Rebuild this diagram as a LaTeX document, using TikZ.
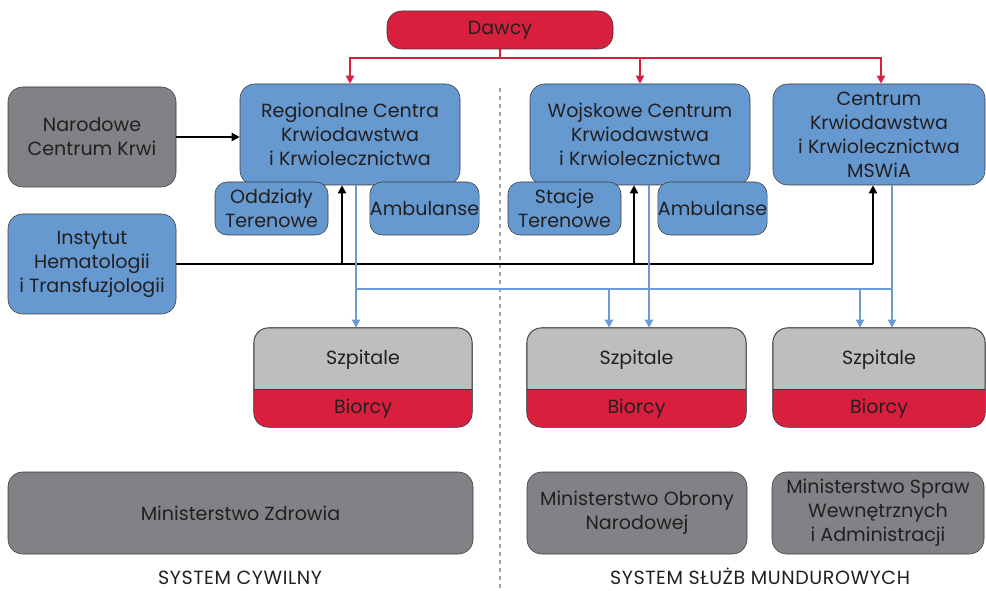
\documentclass[tikz,border=0pt]{standalone}
\usepackage{fontspec}
\setmainfont{Poppins}
\usetikzlibrary{arrows.meta,positioning}
\definecolor{boxblue}{HTML}{6699CF}
\definecolor{boxred}{HTML}{D91F3E}
\definecolor{boxgray}{HTML}{818285}
\definecolor{boxlight}{HTML}{BDBEC0}
\definecolor{lineblue}{HTML}{6A9BD6}
\definecolor{edgegray}{HTML}{3A3A3C}
\definecolor{textdark}{HTML}{231F20}

\begin{document}
\begin{tikzpicture}[
    x=0.75pt, y=0.75pt,
    every node/.style={font=\fontsize{14.3}{18}\selectfont, text=textdark},
    box/.style={draw=edgegray, rounded corners=11pt, align=center, inner sep=0pt, fill=boxblue, minimum width=165pt, minimum height=75.75pt},
    small/.style={draw=edgegray, rounded corners=9pt, align=center, inner sep=0pt, fill=boxblue, minimum width=84.75pt, minimum height=39.75pt},
    ministry/.style={draw=edgegray, rounded corners=11pt, align=center, inner sep=0pt, fill=boxgray, minimum height=61.5pt},
    hosp/.style={draw=edgegray, rounded corners=11pt, inner sep=0pt, fill=boxlight, minimum height=74.25pt},
    caption/.style={inner sep=0pt, font=\fontsize{14.3}{18}\selectfont\addfontfeatures{LetterSpace=3}},
    flow/.style={-{Triangle[length=6pt, width=6pt]}, line width=1.5pt},
    redflow/.style={flow, draw=boxred},
    blueflow/.style={flow, draw=lineblue},
    divider/.style={draw=black!35, dashed, line width=0.8pt}
]
\useasboundingbox (0,0) rectangle (986,590);
\draw[divider] (500,2) -- (500,505);

\node[box, fill=boxred, minimum width=169.5pt, minimum height=28.5pt] (dawcy) at (500,560) {Dawcy};
\node[box, fill=boxgray, minimum width=126pt, minimum height=75pt] (nck) at (92,453) {Narodowe\\Centrum Krwi};
\node[box, minimum width=126pt, minimum height=75pt] (ihit) at (92,326) {Instytut\\Hematologii\\i Transfuzjologii};
\node[box] (rck) at (350,455.5) {Regionalne Centra\\Krwiodawstwa\\i Krwiolecznictwa};
\node[box] (wck) at (640,455.5) {Wojskowe Centrum\\Krwiodawstwa\\i Krwiolecznictwa};
\node[box, minimum width=159pt] (ckm) at (879,455.5) {Centrum\\Krwiodawstwa\\i Krwiolecznictwa\\MSWiA};
\node[small] (odt) at (271.5,381.5) {Oddziały\\Terenowe};
\node[small, minimum width=81.75pt] (amb1) at (424.5,381.5) {Ambulanse};
\node[small] (stt) at (564.5,381.5) {Stacje\\Terenowe};
\node[small, minimum width=81.75pt] (amb2) at (712.5,381.5) {Ambulanse};

\foreach \n/\cx/\w in {1/363/163.5, 2/636.5/164.25, 3/879/159} {
    \node[hosp, minimum width=\w pt] (szp\n) at (\cx,212.5) {};
    \begin{scope}
        \clip[rounded corners=11pt] (szp\n.south west) rectangle (szp\n.north east);
        \fill[boxred] (szp\n.south west) rectangle (szp\n.east |- 0,201);
    \end{scope}
    \draw[edgegray, rounded corners=11pt] (szp\n.south west) rectangle (szp\n.north east);
    \draw[edgegray] (szp\n.west |- 0,201) -- (szp\n.east |- 0,201);
    \node (szpt\n) at (\cx,230) {Szpitale};
    \node (bio\n) at (\cx,181) {Biorcy};
}

\node[ministry, minimum width=348.75pt] (mz) at (240.5,77) {Ministerstwo Zdrowia};
\node[ministry, minimum width=165pt] (mon) at (637,77) {Ministerstwo Obrony\\Narodowej};
\node[ministry, minimum width=159pt] (mswia) at (878,77) {Ministerstwo Spraw\\Wewnętrznych\\i Administracji};
\node[caption, anchor=base] (cyw) at (240,6) {SYSTEM CYWILNY};
\node[caption, anchor=base] (mund) at (760,6) {SYSTEM SŁUŻB MUNDUROWYCH};

\coordinate (rj) at (500,532);
\draw[boxred, line width=1.5pt] (dawcy.south) -- (rj);
\draw[redflow] (rj) -| (rck.north);
\draw[redflow] (rj) -| (wck.north);
\draw[redflow] (rj) -| ([xshift=1.5pt]ckm.north);

\draw[flow] (nck.east) -- (nck.east -| rck.west);
\coordinate (b1) at (342,326);
\coordinate (b2) at (634,326);
\coordinate (b3) at (873,326);
\draw[line width=1.5pt] (ihit.east) -- (b3);
\draw[flow] (b1) -- (b1 |- rck.south);
\draw[flow] (b2) -- (b2 |- wck.south);
\draw[flow] (b3) -- (b3 |- ckm.south);

\coordinate (u1) at (356,301);
\coordinate (u2) at (649,301);
\coordinate (u3) at (892,301);
\coordinate (u4) at (609,301);
\coordinate (u5) at (860,301);
\draw[lineblue, line width=1.5pt] (u1) -- (u3);
\draw[blueflow] (u1 |- rck.south) -- (u1 |- szp1.north);
\draw[blueflow] (u2 |- wck.south) -- (u2 |- szp2.north);
\draw[blueflow] (u3 |- ckm.south) -- (u3 |- szp3.north);
\draw[blueflow] (u4) -- (u4 |- szp2.north);
\draw[blueflow] (u5) -- (u5 |- szp3.north);
\end{tikzpicture}
\end{document}
